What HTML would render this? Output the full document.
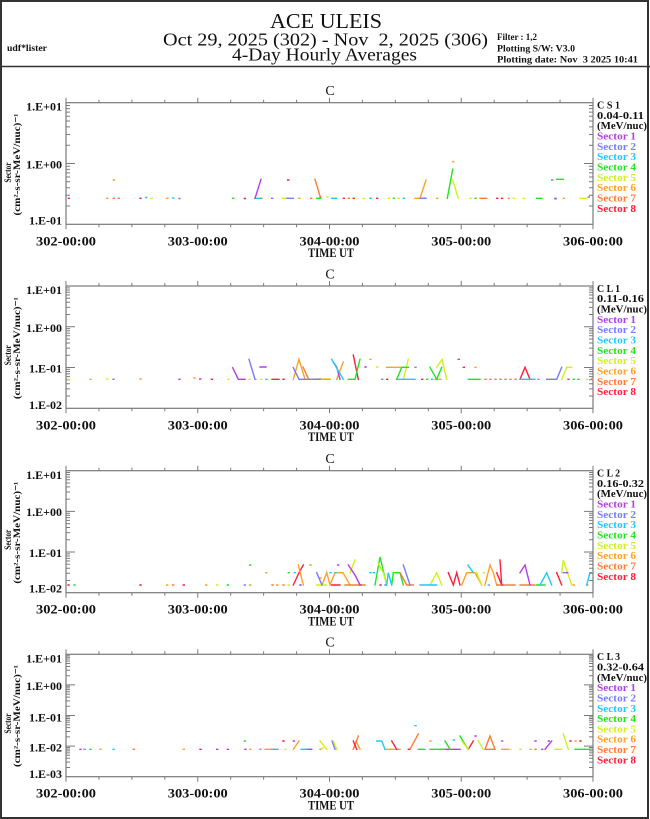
<!DOCTYPE html>
<html><head><meta charset="utf-8"><style>
html,body{margin:0;padding:0;background:#fff;}
svg{display:block;}
.ax{fill:none;stroke:#7a7a7a;stroke-width:1.2;}
.tk{fill:none;stroke:#7a7a7a;stroke-width:1;}
.yl{font-family:"Liberation Serif",serif;font-weight:bold;font-size:12px;fill:#111;text-anchor:end;}
.xl{font-family:"Liberation Serif",serif;font-weight:bold;font-size:13px;fill:#111;text-anchor:middle;}
.tt{font-family:"Liberation Serif",serif;font-size:14px;fill:#111;text-anchor:middle;}
.lg{font-family:"Liberation Serif",serif;font-weight:bold;font-size:11px;fill:#111;}
.yt{font-family:"Liberation Serif",serif;font-weight:bold;font-size:9px;fill:#111;text-anchor:middle;}
.d{fill:none;stroke-width:1.4;stroke-linecap:square;stroke-linejoin:miter;}
.c1{stroke:#b43ce6;fill:#b43ce6}.c2{stroke:#7a7aff;fill:#7a7aff}.c3{stroke:#1ec8ff;fill:#1ec8ff}.c4{stroke:#1ee61e;fill:#1ee61e}
.c5{stroke:#d2f01e;fill:#d2f01e}.c6{stroke:#ffa028;fill:#ffa028}.c7{stroke:#ff7a32;fill:#ff7a32}.c8{stroke:#ff1e3c;fill:#ff1e3c}
path.d{fill:none}
text.lg{stroke:none}
</style></head><body>
<svg width="650" height="819" viewBox="0 0 650 819" xmlns="http://www.w3.org/2000/svg" xmlns:xlink="http://www.w3.org/1999/xlink">
<defs>
<path id="tt" d="M66 0v-5M98.94 0v-3M131.88 0v-3M164.81 0v-3M197.75 0v-5M230.69 0v-3M263.63 0v-3M296.56 0v-3M329.5 0v-5M362.44 0v-3M395.38 0v-3M428.31 0v-3M461.25 0v-5M494.19 0v-3M527.13 0v-3M560.06 0v-3M593 0v-5"/>
<path id="bt" d="M66 0v5M98.94 0v3M131.88 0v3M164.81 0v3M197.75 0v5M230.69 0v3M263.63 0v3M296.56 0v3M329.5 0v5M362.44 0v3M395.38 0v3M428.31 0v3M461.25 0v5M494.19 0v3M527.13 0v3M560.06 0v3M593 0v5"/>
<path id="y1" d="M0 163.5h9M0 206h4M0 195.29h4M0 187.69h4M0 181.8h4M0 176.99h4M0 172.92h4M0 169.39h4M0 166.28h4M0 145.2h4M0 134.49h4M0 126.89h4M0 121h4M0 116.19h4M0 112.12h4M0 108.59h4M0 105.48h4"/>
<path id="y2" d="M0 367.53h9M0 326.77h9M0 396.03h4M0 388.85h4M0 383.75h4M0 379.8h4M0 376.57h4M0 373.84h4M0 371.48h4M0 369.4h4M0 355.26h4M0 348.08h4M0 342.98h4M0 339.03h4M0 335.8h4M0 333.07h4M0 330.71h4M0 328.63h4M0 314.5h4M0 307.32h4M0 302.22h4M0 298.27h4M0 295.04h4M0 292.31h4M0 289.95h4M0 287.87h4"/>
<path id="y3" d="M0 552.03h9M0 511.37h9M0 580.46h4M0 573.3h4M0 568.21h4M0 564.27h4M0 561.05h4M0 558.33h4M0 555.97h4M0 553.89h4M0 539.79h4M0 532.63h4M0 527.54h4M0 523.6h4M0 520.38h4M0 517.66h4M0 515.3h4M0 513.22h4M0 499.13h4M0 491.97h4M0 486.88h4M0 482.94h4M0 479.72h4M0 477h4M0 474.64h4M0 472.56h4"/>
<path id="y4" d="M0 746.1h9M0 715.5h9M0 684.9h9M0 767.49h4M0 762.1h4M0 758.28h4M0 755.31h4M0 752.89h4M0 750.84h4M0 749.07h4M0 747.5h4M0 736.89h4M0 731.5h4M0 727.68h4M0 724.71h4M0 722.29h4M0 720.24h4M0 718.47h4M0 716.9h4M0 706.29h4M0 700.9h4M0 697.08h4M0 694.11h4M0 691.69h4M0 689.64h4M0 687.87h4M0 686.3h4M0 675.69h4M0 670.3h4M0 666.48h4M0 663.51h4M0 661.09h4M0 659.04h4M0 657.27h4M0 655.7h4"/>
</defs>

<!-- frame and header -->
<rect x="1" y="1" width="647" height="817" fill="none" stroke="#333" stroke-width="2"/>
<line x1="0" y1="66.5" x2="650" y2="66.5" stroke="#333" stroke-width="1.6"/>
<text x="326" y="28" font-family="Liberation Serif, serif" font-size="21" fill="#111" text-anchor="middle" textLength="112" lengthAdjust="spacingAndGlyphs">ACE ULEIS</text>
<text x="325.5" y="45.5" font-family="Liberation Serif, serif" font-size="18" fill="#111" text-anchor="middle" textLength="325" lengthAdjust="spacingAndGlyphs" xml:space="preserve">Oct 29, 2025 (302) - Nov  2, 2025 (306)</text>
<text x="324.5" y="60.5" font-family="Liberation Serif, serif" font-size="18" fill="#111" text-anchor="middle" textLength="185" lengthAdjust="spacingAndGlyphs">4-Day Hourly Averages</text>
<text x="7" y="51" font-family="Liberation Serif, serif" font-weight="bold" font-size="9" fill="#111" textLength="40" lengthAdjust="spacingAndGlyphs">udf*lister</text>
<text x="497" y="40" font-family="Liberation Serif, serif" font-weight="bold" font-size="9" fill="#111" textLength="40" lengthAdjust="spacingAndGlyphs">Filter : 1,2</text>
<text x="497" y="51.7" font-family="Liberation Serif, serif" font-weight="bold" font-size="9" fill="#111" textLength="78" lengthAdjust="spacingAndGlyphs">Plotting S/W: V3.0</text>
<text x="497" y="62.7" font-family="Liberation Serif, serif" font-weight="bold" font-size="9" fill="#111" textLength="141" lengthAdjust="spacingAndGlyphs" xml:space="preserve">Plotting date: Nov  3 2025 10:41</text>

<!-- ================= PANEL 1 ================= -->
<text class="tt" x="330" y="95">C</text>
<rect class="ax" x="66" y="102.7" width="527" height="121.6"/>
<use href="#tt" xlink:href="#tt" class="tk" y="102.7"/>
<use href="#bt" xlink:href="#bt" class="tk" y="224.3"/>
<use href="#y1" xlink:href="#y1" class="tk" x="66"/>
<use href="#y1" xlink:href="#y1" class="tk" transform="translate(593,0) scale(-1,1)"/>
<text class="yl" x="62" y="110.7">1.E+01</text>
<text class="yl" x="62" y="168.5">1.E+00</text>
<text class="yl" x="62" y="224.3">1.E-01</text>
<text class="yt" transform="translate(11,172.5) rotate(-90)" textLength="20" lengthAdjust="spacingAndGlyphs">Sector</text>
<text class="yt" transform="translate(20,164.5) rotate(-90)" textLength="102" lengthAdjust="spacingAndGlyphs">(cm²-s-sr-MeV/nuc)⁻¹</text>
<text class="xl" x="66" y="245.3" textLength="60" lengthAdjust="spacingAndGlyphs">302-00:00</text>
<text class="xl" x="197.75" y="245.3" textLength="60" lengthAdjust="spacingAndGlyphs">303-00:00</text>
<text class="xl" x="329.5" y="245.3" textLength="60" lengthAdjust="spacingAndGlyphs">304-00:00</text>
<text class="xl" x="461.25" y="245.3" textLength="60" lengthAdjust="spacingAndGlyphs">305-00:00</text>
<text class="xl" x="593" y="245.3" textLength="60" lengthAdjust="spacingAndGlyphs">306-00:00</text>
<text class="xl" x="331" y="257" textLength="46" lengthAdjust="spacingAndGlyphs">TIME UT</text>
<g>
<text class="lg" x="597" y="108.5" textLength="23" lengthAdjust="spacingAndGlyphs" xml:space="preserve">C S 1</text>
<text class="lg" x="597" y="118.8" textLength="47" lengthAdjust="spacingAndGlyphs">0.04-0.11</text>
<text class="lg" x="597" y="129.2" textLength="50" lengthAdjust="spacingAndGlyphs">(MeV/nuc)</text>
<text class="lg c1" x="597" y="139.5" textLength="39" lengthAdjust="spacingAndGlyphs">Sector 1</text>
<text class="lg c2" x="597" y="149.8" textLength="39" lengthAdjust="spacingAndGlyphs">Sector 2</text>
<text class="lg c3" x="597" y="160.2" textLength="39" lengthAdjust="spacingAndGlyphs">Sector 3</text>
<text class="lg c4" x="597" y="170.5" textLength="39" lengthAdjust="spacingAndGlyphs">Sector 4</text>
<text class="lg c5" x="597" y="180.8" textLength="39" lengthAdjust="spacingAndGlyphs">Sector 5</text>
<text class="lg c6" x="597" y="191.1" textLength="39" lengthAdjust="spacingAndGlyphs">Sector 6</text>
<text class="lg c7" x="597" y="201.5" textLength="39" lengthAdjust="spacingAndGlyphs">Sector 7</text>
<text class="lg c8" x="597" y="211.8" textLength="39" lengthAdjust="spacingAndGlyphs">Sector 8</text>
</g>
<path class="d c8" d="M68.3 198.3h1M140 198.3h1M244.3 198.5h1M287.7 180h1M343.3 198.3h1M353.3 198.3h1M376.7 198.3h1M496.7 198.3h1M501.7 198.3h1"/>
<path class="d c6" d="M106.7 198.3h1M113.3 180h1M166.7 198.3h1M299 198.3h1M436.7 198.3h1M452.7 161.7h1M508.3 198.3h1M563.3 198.3h1M320 197h1M420 198.3L426 180M415 198.3H426"/>
<path class="d c7" d="M113.3 198.3h1M118.3 198.3h1M261 198.3h1M310.7 198.3h1M348.3 198.3h1M315 179.3L320.7 198.3M480 198.3H486.7"/>
<path class="d c3" d="M145.7 197.5h1M172.7 198h1M403.3 198.3h1M255 198.3H261M331.7 198.3H336.7"/>
<path class="d c5" d="M151 198.3h1M326.7 197h1M363.3 198.3h1M388.3 198.3h1M398.3 198.3h1M470 198.3h1M513.3 198.3h1M523.3 198.3h1M282.7 198.3H289M452.7 180L458.3 198.3M580 198.3H586.7"/>
<path class="d c2" d="M179 198.5h1M271.7 198.3h1M551.7 180h1M555 198.3h1M588.3 197h1M287 198.3H293.3M420 198.3H426"/>
<path class="d c4" d="M232.7 198.3h1M370 198.3h1M393.3 198.3h1M475 198.3h1M316.7 198.3H320.7M447.3 198.3L452.7 169.3M536.7 198.3H541.7M556.7 179.3H563.3"/>
<path class="d c1" d="M255 198.3L261 179.3M555 198.8h1"/>

<!-- ================= PANEL 2 ================= -->
<text class="tt" x="330" y="278.5">C</text>
<rect class="ax" x="66" y="286" width="527" height="122.3"/>
<use href="#tt" xlink:href="#tt" class="tk" y="286"/>
<use href="#bt" xlink:href="#bt" class="tk" y="408.3"/>
<use href="#y2" xlink:href="#y2" class="tk" x="66"/>
<use href="#y2" xlink:href="#y2" class="tk" transform="translate(593,0) scale(-1,1)"/>
<text class="yl" x="62" y="294">1.E+01</text>
<text class="yl" x="62" y="331.8">1.E+00</text>
<text class="yl" x="62" y="372.5">1.E-01</text>
<text class="yl" x="62" y="409">1.E-02</text>
<text class="yt" transform="translate(11,355.2) rotate(-90)" textLength="20" lengthAdjust="spacingAndGlyphs">Sector</text>
<text class="yt" transform="translate(20,348.2) rotate(-90)" textLength="102" lengthAdjust="spacingAndGlyphs">(cm²-s-sr-MeV/nuc)⁻¹</text>
<text class="xl" x="66" y="429.3" textLength="60" lengthAdjust="spacingAndGlyphs">302-00:00</text>
<text class="xl" x="197.75" y="429.3" textLength="60" lengthAdjust="spacingAndGlyphs">303-00:00</text>
<text class="xl" x="329.5" y="429.3" textLength="60" lengthAdjust="spacingAndGlyphs">304-00:00</text>
<text class="xl" x="461.25" y="429.3" textLength="60" lengthAdjust="spacingAndGlyphs">305-00:00</text>
<text class="xl" x="593" y="429.3" textLength="60" lengthAdjust="spacingAndGlyphs">306-00:00</text>
<text class="xl" x="331" y="441" textLength="46" lengthAdjust="spacingAndGlyphs">TIME UT</text>
<g>
<text class="lg" x="597" y="291.8" textLength="23" lengthAdjust="spacingAndGlyphs" xml:space="preserve">C L 1</text>
<text class="lg" x="597" y="302.1" textLength="47" lengthAdjust="spacingAndGlyphs">0.11-0.16</text>
<text class="lg" x="597" y="312.5" textLength="50" lengthAdjust="spacingAndGlyphs">(MeV/nuc)</text>
<text class="lg c1" x="597" y="322.8" textLength="39" lengthAdjust="spacingAndGlyphs">Sector 1</text>
<text class="lg c2" x="597" y="333.1" textLength="39" lengthAdjust="spacingAndGlyphs">Sector 2</text>
<text class="lg c3" x="597" y="343.5" textLength="39" lengthAdjust="spacingAndGlyphs">Sector 3</text>
<text class="lg c4" x="597" y="353.8" textLength="39" lengthAdjust="spacingAndGlyphs">Sector 4</text>
<text class="lg c5" x="597" y="364.1" textLength="39" lengthAdjust="spacingAndGlyphs">Sector 5</text>
<text class="lg c6" x="597" y="374.4" textLength="39" lengthAdjust="spacingAndGlyphs">Sector 6</text>
<text class="lg c7" x="597" y="384.8" textLength="39" lengthAdjust="spacingAndGlyphs">Sector 7</text>
<text class="lg c8" x="597" y="395.1" textLength="39" lengthAdjust="spacingAndGlyphs">Sector 8</text>
</g>
<path class="d c5" d="M68 379.3h1M106.7 379h1M228 379.3h1M249 379.3h1M260.7 379.3h1M376.7 367h1M551.7 379.3h1M586.7 379.3h1M316 379H330M403.3 379.3L408.3 359.3M436.7 367.3L442 359.3L446.7 379.3M561.7 379.3L566.7 367.3H571.7"/>
<path class="d c6" d="M90 379.3h1M140 379h1M194 378h1M255 379.3h1M370 359.3h1M475 367.3h1M293.3 379.3L299 359.3L305 379.3M386.7 367.3H403.3M336.7 379.3L343.3 362M435 379.3H441M320 379.3H330"/>
<path class="d c7" d="M591.7 379h1M485 379.3h1M490 379.3h1M495 379.3h1M500 379.3h1M505 379.3h1M510 379.3h1M515 379.3h1M538 379.3h1M546.7 379.3h1M303 367L308.7 379.3H320"/>
<path class="d c2" d="M113 379.3h1M381.7 379.3h1M415 367.3h1M249 359.3L255 379.3M293.3 367.7L299 379.3H320M546.7 379.3H556.7L561.7 367.3"/>
<path class="d c1" d="M179 379.3h1M199.7 379h1M365 367h1M458.3 359.3h1M568 379.3h1M232.7 367.7L238.3 379.3H245M260 367H266M333.3 362L336.7 367L340 379.3"/>
<path class="d c8" d="M211.3 379.3h1M283 379.3h1M386.7 379.3h1M421.7 379.3h1M463.3 367.3h1M272 379.3H279M353.3 355L358.3 379.3M520 379.3L525 367.3L530 379.3"/>
<path class="d c3" d="M266 379.3h1M431.7 379.3h1M331.7 359.3L336.7 368L343.3 379.3M396.7 379.3H415M520 379.3H535"/>
<path class="d c4" d="M426.7 379.3h1M573.3 379.3h1M578 379.3h1M348.3 379.3H355L360 359.3M396.7 379.3L401.7 367.3H408.3M430 367.3L436.7 379.3L441.7 367.3M468.3 379.3H480"/>

<!-- ================= PANEL 3 ================= -->
<text class="tt" x="330" y="463">C</text>
<rect class="ax" x="66" y="470.7" width="527" height="122"/>
<use href="#tt" xlink:href="#tt" class="tk" y="470.7"/>
<use href="#bt" xlink:href="#bt" class="tk" y="592.7"/>
<use href="#y3" xlink:href="#y3" class="tk" x="66"/>
<use href="#y3" xlink:href="#y3" class="tk" transform="translate(593,0) scale(-1,1)"/>
<text class="yl" x="62" y="479">1.E+01</text>
<text class="yl" x="62" y="516">1.E+00</text>
<text class="yl" x="62" y="556.8">1.E-01</text>
<text class="yl" x="62" y="592.3">1.E-02</text>
<text class="yt" transform="translate(11,539.7) rotate(-90)" textLength="20" lengthAdjust="spacingAndGlyphs">Sector</text>
<text class="yt" transform="translate(20,532.7) rotate(-90)" textLength="102" lengthAdjust="spacingAndGlyphs">(cm²-s-sr-MeV/nuc)⁻¹</text>
<text class="xl" x="66" y="613.7" textLength="60" lengthAdjust="spacingAndGlyphs">302-00:00</text>
<text class="xl" x="197.75" y="613.7" textLength="60" lengthAdjust="spacingAndGlyphs">303-00:00</text>
<text class="xl" x="329.5" y="613.7" textLength="60" lengthAdjust="spacingAndGlyphs">304-00:00</text>
<text class="xl" x="461.25" y="613.7" textLength="60" lengthAdjust="spacingAndGlyphs">305-00:00</text>
<text class="xl" x="593" y="613.7" textLength="60" lengthAdjust="spacingAndGlyphs">306-00:00</text>
<text class="xl" x="331" y="625.4" textLength="46" lengthAdjust="spacingAndGlyphs">TIME UT</text>
<g>
<text class="lg" x="597" y="476.5" textLength="23" lengthAdjust="spacingAndGlyphs" xml:space="preserve">C L 2</text>
<text class="lg" x="597" y="486.8" textLength="47" lengthAdjust="spacingAndGlyphs">0.16-0.32</text>
<text class="lg" x="597" y="497.2" textLength="50" lengthAdjust="spacingAndGlyphs">(MeV/nuc)</text>
<text class="lg c1" x="597" y="507.5" textLength="39" lengthAdjust="spacingAndGlyphs">Sector 1</text>
<text class="lg c2" x="597" y="517.8" textLength="39" lengthAdjust="spacingAndGlyphs">Sector 2</text>
<text class="lg c3" x="597" y="528.2" textLength="39" lengthAdjust="spacingAndGlyphs">Sector 3</text>
<text class="lg c4" x="597" y="538.5" textLength="39" lengthAdjust="spacingAndGlyphs">Sector 4</text>
<text class="lg c5" x="597" y="548.8" textLength="39" lengthAdjust="spacingAndGlyphs">Sector 5</text>
<text class="lg c6" x="597" y="559.1" textLength="39" lengthAdjust="spacingAndGlyphs">Sector 6</text>
<text class="lg c7" x="597" y="569.5" textLength="39" lengthAdjust="spacingAndGlyphs">Sector 7</text>
<text class="lg c8" x="597" y="579.8" textLength="39" lengthAdjust="spacingAndGlyphs">Sector 8</text>
</g>
<path class="d c8" d="M68 585h1M140 585h1M183.3 585h1M380 585h1M590 572.7h1M293.3 585L299 572.7L303.3 565M331.7 585H340M448.3 572.7L453.3 585L456.7 572.7L460 585M496.7 572.7L501.7 585M500 560L501.7 585M556.7 572.7L561.7 585"/>
<path class="d c4" d="M74 585h1M227.3 585h1M249.7 565h1M288.3 572.7h1M375 585L380 557L386.7 585M391.7 585L393.3 572.7H400L403.3 585M536.7 585H545"/>
<path class="d c6" d="M166.7 585h1M205.7 585h1M249.7 585h1M265.7 572.7h1M276.7 585h1M310 565h1M320 578h1M573.3 585h1M298.3 565L303.3 585M322 585L326.7 572.7L330 585M330 585L335 572.7H343L350 585M461.7 585L466.7 572.7H475L481.7 585M485 585L490 565L493.3 572.7L496.7 585"/>
<path class="d c7" d="M172.7 585h1M272 585h1M283 585h1M586.7 585h1M345 585H365M400 572.7L406.7 585H413.3M496.7 585H515M520 585H535"/>
<path class="d c5" d="M216.7 585h1M288.3 585h1M483.3 572.7h1M316.7 585H326.7M350 572.7L355 560M378 563L383.3 572.7L386.7 585M430 585L436.7 572.7L441.7 585M476.7 572.7L481.7 585M561.7 572.7L563.3 560L571.7 585"/>
<path class="d c2" d="M244.3 585h1M385 585h1M316.7 572.7L322 585M403.3 565L410 585M563.3 572.7H566.7"/>
<path class="d c3" d="M294.3 572.7h1M330 572.7h1M335 572.7h1M370 572.7h1M373.3 572.7h1M488.3 585h1M386.7 585L388.3 572.7L391.7 585M420 585H436.7M468 565L473.3 572.7M540 585L546.7 572.7L551.7 585M586.7 585L590 572.7"/>
<path class="d c1" d="M300 585h1M337.7 565h1M360 585h1M501.7 585h1M566.7 572.7h1M348.3 565L355 575L360 585M520 572.7L525 565L530 585"/>

<!-- ================= PANEL 4 ================= -->
<text class="tt" x="330" y="646.7">C</text>
<rect class="ax" x="66" y="654.3" width="527" height="122.4"/>
<use href="#tt" xlink:href="#tt" class="tk" y="654.3"/>
<use href="#bt" xlink:href="#bt" class="tk" y="776.7"/>
<use href="#y4" xlink:href="#y4" class="tk" x="66"/>
<use href="#y4" xlink:href="#y4" class="tk" transform="translate(593,0) scale(-1,1)"/>
<text class="yl" x="62" y="662.5">1.E+01</text>
<text class="yl" x="62" y="690">1.E+00</text>
<text class="yl" x="62" y="721.3">1.E-01</text>
<text class="yl" x="62" y="751.3">1.E-02</text>
<text class="yl" x="62" y="778">1.E-03</text>
<text class="yt" transform="translate(11,723.5) rotate(-90)" textLength="20" lengthAdjust="spacingAndGlyphs">Sector</text>
<text class="yt" transform="translate(20,716) rotate(-90)" textLength="102" lengthAdjust="spacingAndGlyphs">(cm²-s-sr-MeV/nuc)⁻¹</text>
<text class="xl" x="66" y="797.7" textLength="60" lengthAdjust="spacingAndGlyphs">302-00:00</text>
<text class="xl" x="197.75" y="797.7" textLength="60" lengthAdjust="spacingAndGlyphs">303-00:00</text>
<text class="xl" x="329.5" y="797.7" textLength="60" lengthAdjust="spacingAndGlyphs">304-00:00</text>
<text class="xl" x="461.25" y="797.7" textLength="60" lengthAdjust="spacingAndGlyphs">305-00:00</text>
<text class="xl" x="593" y="797.7" textLength="60" lengthAdjust="spacingAndGlyphs">306-00:00</text>
<text class="xl" x="331" y="809.4" textLength="46" lengthAdjust="spacingAndGlyphs">TIME UT</text>
<g>
<text class="lg" x="597" y="660.1" textLength="23" lengthAdjust="spacingAndGlyphs" xml:space="preserve">C L 3</text>
<text class="lg" x="597" y="670.4" textLength="47" lengthAdjust="spacingAndGlyphs">0.32-0.64</text>
<text class="lg" x="597" y="680.8" textLength="50" lengthAdjust="spacingAndGlyphs">(MeV/nuc)</text>
<text class="lg c1" x="597" y="691.1" textLength="39" lengthAdjust="spacingAndGlyphs">Sector 1</text>
<text class="lg c2" x="597" y="701.4" textLength="39" lengthAdjust="spacingAndGlyphs">Sector 2</text>
<text class="lg c3" x="597" y="711.8" textLength="39" lengthAdjust="spacingAndGlyphs">Sector 3</text>
<text class="lg c4" x="597" y="722.1" textLength="39" lengthAdjust="spacingAndGlyphs">Sector 4</text>
<text class="lg c5" x="597" y="732.4" textLength="39" lengthAdjust="spacingAndGlyphs">Sector 5</text>
<text class="lg c6" x="597" y="742.7" textLength="39" lengthAdjust="spacingAndGlyphs">Sector 6</text>
<text class="lg c7" x="597" y="753.1" textLength="39" lengthAdjust="spacingAndGlyphs">Sector 7</text>
<text class="lg c8" x="597" y="763.4" textLength="39" lengthAdjust="spacingAndGlyphs">Sector 8</text>
</g>
<path class="d c1" d="M80 749.3h1M216.7 749.3h1M227.3 749.3h1M245 749.3h1M293.3 741h1M475 736h1M535 741h1M541.7 749.3h1M548.3 741h1M305 749.3H311.7M440 749.3H460M545 749.3L551.7 741"/>
<path class="d c2" d="M84 749.3h1M501.7 741h1M332 741L335 749.3"/>
<path class="d c4" d="M90 749.3h1M244.3 741h1M418.3 749.3H425M430 749.3H445M445 741L450 749.3M460 736L468 749.3M575 749.3H590"/>
<path class="d c6" d="M100 749.3h1M183.3 749.3h1M249.7 749.3h1M320 749.3h1M430 741h1M530 749.3h1M575 741h1M265 749.3H275M293.3 749.3L299 741M356 741L360 749.3M385 749.3H400M501.7 749.3H508.3"/>
<path class="d c7" d="M133.3 749.3h1M260 749.3h1M535 749.3h1M353.3 749.3L358.3 736M410 749.3L418.3 734M485 749.3L490 736L495 749.3H485"/>
<path class="d c3" d="M113 749.3h1M415 725.7h1M453.3 740h1M271.7 749.3H278M301 749.3H306.7M376.7 741H381.7L385 749.3"/>
<path class="d c8" d="M200 749.3h1M283 741h1M408.3 749.3h1M570 741h1M580 741h1M353.3 741L356.7 749.3M391.7 741L396.7 749.3M468.3 749.3L473.3 741"/>
<path class="d c5" d="M285 749.3h1M322 748h1M510 749.3h1M520 749.3h1M320 741L326.7 749.3M333.3 741L336.7 749.3M461.7 741L468.3 749.3M478.3 741L483.3 749.3M555 749.3H561.7M563.3 734L568.3 749.3"/>
</svg>
</body></html>
